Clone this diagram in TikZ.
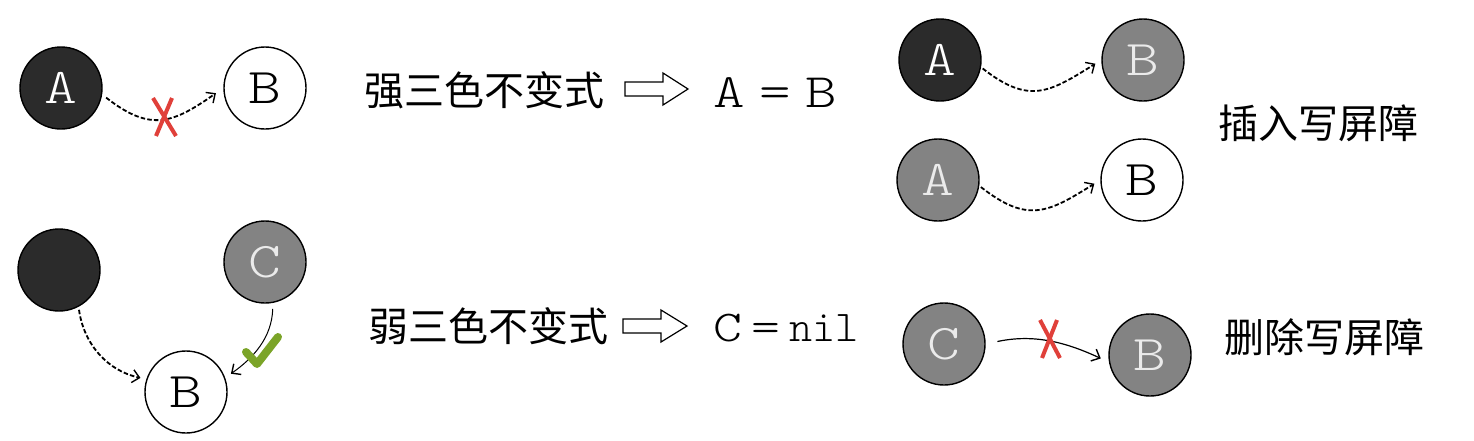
\documentclass[tikz,border=0pt]{standalone}
\usepackage{fontspec}
\usepackage{graphicx}
\newfontfamily\cjk{Noto Sans CJK SC}
\newfontfamily\lettermono{Latin Modern Mono Light}
\newcommand{\widelet}[1]{\scalebox{1.25}[1]{#1}}
\usetikzlibrary{arrows.meta}
\definecolor{nodeblack}{HTML}{2B2B2B}
\definecolor{nodegray}{HTML}{838383}
\definecolor{crossred}{HTML}{E0403A}
\definecolor{checkgreen}{HTML}{7BA428}
\tikzset{
  x=1pt,y=-1pt,
  obj/.style={circle,draw=black,line width=1.4pt,minimum size=82pt,inner sep=0pt,
    font=\lettermono\fontsize{50}{50}\selectfont},
  blackobj/.style={obj,fill=nodeblack,text=white},
  grayobj/.style={obj,fill=nodegray,text=white!92!black},
  whiteobj/.style={obj,fill=white,text=black},
  tip/.style={-{Straight Barb[length=7pt,width=13pt,line width=1.4pt]}},
  dasharrow/.style={tip,line width=1.8pt,dash pattern=on 4.5pt off 2.2pt},
  solidarrow/.style={tip,line width=1.2pt},
  cross/.style={draw=crossred,line width=4pt},
  cjktext/.style={font=\cjk\fontsize{40}{40}\selectfont,inner sep=0pt},
  eqtext/.style={font=\lettermono\fontsize{48}{48}\selectfont,inner sep=0pt},
  hollow/.style={draw=black,line width=1.2pt,fill=white,line join=miter}
}
\begin{document}
\begin{tikzpicture}
\useasboundingbox (0,0) rectangle (1474,440);
% ---------- top-left: strong invariant ----------
\node[blackobj] (a1) at (61,88) {\widelet{A}};
\node[whiteobj] (b1) at (265,88) {\widelet{B}};
\draw[dasharrow,shorten <=5pt,shorten >=9pt] (a1.-9) to[out=-38,in=215,looseness=1.3] (b1.west);
\draw[cross] (153,98) -- (176,136);
\draw[cross] (172,98) -- (156,136);

\node[cjktext] (strong) at (484,90) {强三色不变式};
\coordinate (h1) at (625,89);
\draw[hollow] (h1) ++(0,-7) -- ++(38,0) -- ++(0,-9) -- ++(25,16) -- ++(-25,16) -- ++(0,-9) -- ++(-38,0) -- cycle;
\node[eqtext] (eq1) at (775,93) {\widelet{A}\hspace{0.3em}\widelet{=}\hspace{0.3em}\widelet{B}};

% ---------- bottom-left: weak invariant ----------
\node[blackobj] (a2) at (59,270) {};
\node[grayobj] (c2) at (265,262) {\widelet{C}};
\node[whiteobj] (b2) at (186,392) {\widelet{B}};
\draw[dasharrow,shorten <=3pt,shorten >=6pt] (a2.-62) to[out=-82,in=168] (b2.162);
\draw[solidarrow,line width=1pt,shorten <=6pt,shorten >=7pt] (c2.-79) to[out=-92,in=35] (b2.20);
\draw[checkgreen,line width=8pt,line cap=round,line join=round] (246,352) -- (257,364) -- (278,337);

\node[cjktext] (weak) at (488,326) {弱三色不变式};
\coordinate (h2) at (623,326);
\draw[hollow] (h2) ++(0,-7) -- ++(38,0) -- ++(0,-9) -- ++(26,16) -- ++(-26,16) -- ++(0,-9) -- ++(-38,0) -- cycle;
\node[eqtext,font=\lettermono\fontsize{44}{44}\selectfont] (eq2) at (786,328) {\widelet{C}\hspace{0.2em}\widelet{=}\hspace{0.2em}nil};

% ---------- right: insertion write barrier ----------
\node[blackobj] (a3) at (940,60) {\widelet{A}};
\node[grayobj] (b3) at (1143,60) {\widelet{B}};
\draw[dasharrow,shorten <=2pt,shorten >=7pt] (a3.-10) to[out=-38,in=212,looseness=1.3] (b3.west);
\node[grayobj] (a4) at (938,180) {\widelet{A}};
\node[whiteobj] (b4) at (1142,180) {\widelet{B}};
\draw[dasharrow,shorten <=2pt,shorten >=7pt] (a4.-8) to[out=-38,in=212,looseness=1.3] (b4.west);
\node[cjktext] (insert) at (1318,123) {插入写屏障};

% ---------- right: deletion write barrier ----------
\node[grayobj] (c5) at (944,344) {\widelet{C}};
\node[grayobj] (b5) at (1150,355) {\widelet{B}};
\draw[solidarrow,shorten <=12pt,shorten >=9pt] (c5.0) to[out=12,in=155] (b5.190);
\draw[cross] (1040,320) -- (1060,358);
\draw[cross] (1057,320) -- (1042,358);
\node[cjktext] (delete) at (1324,337) {删除写屏障};
\end{tikzpicture}
\end{document}
